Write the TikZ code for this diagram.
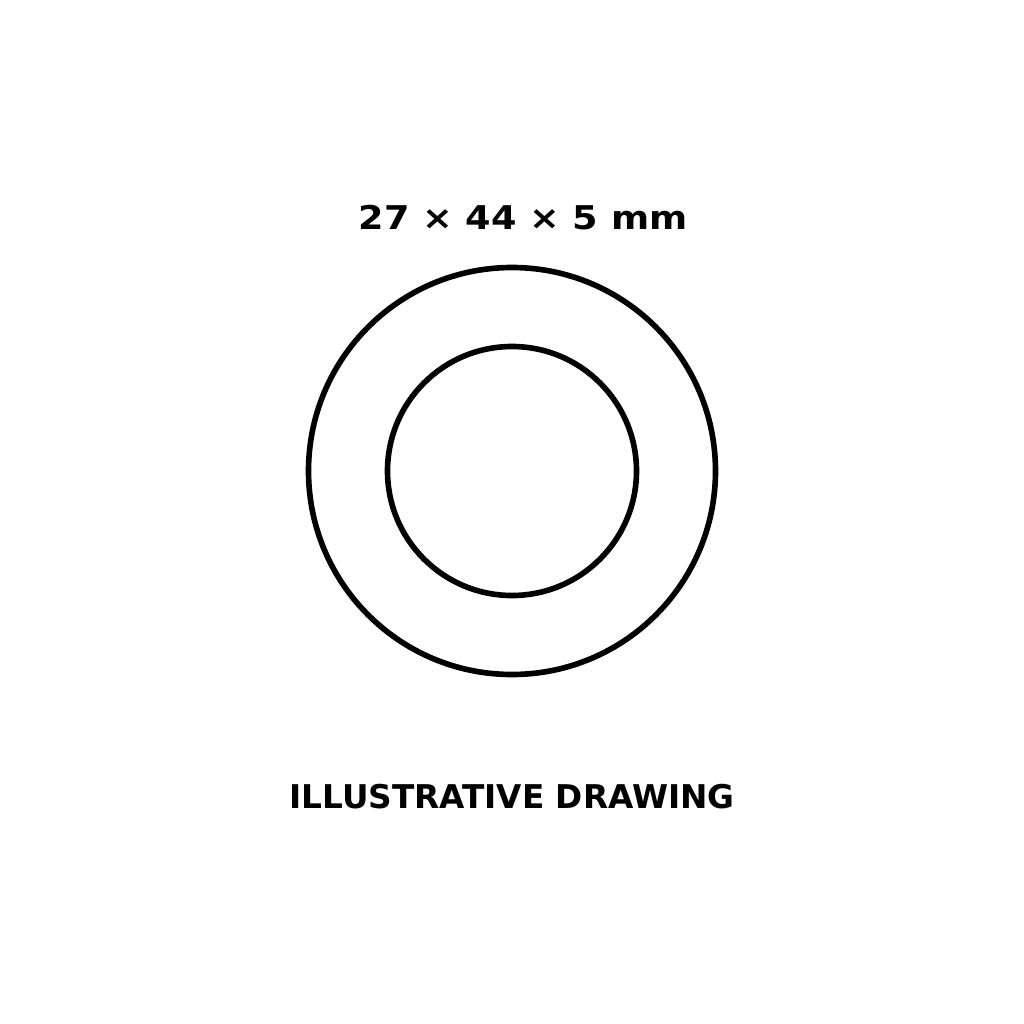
\documentclass[tikz,border=0pt]{standalone}
\usepackage{fontspec}
\usepackage{graphicx}
\setmainfont{DejaVu Sans}
\tikzset{
  ring/.style={draw=black, line width=1.6pt},
  caption/.style={font=\fontsize{9.3pt}{11pt}\selectfont\bfseries, inner sep=0pt}
}
\begin{document}
\begin{tikzpicture}[x=0.01cm, y=-0.01cm]
  \useasboundingbox[fill=white] (0,0) rectangle (1024,1024);
  \coordinate (centre) at (512,471);
  \draw[ring] (centre) circle[radius=203.5];
  \draw[ring] (centre) circle[radius=124.5];
  \node[caption, anchor=base] (size) at (523,229) {\scalebox{1.12}[1]{27 × 44 × 5 mm}};
  \node[caption, anchor=base] (note) at (512,808) {ILLUSTRATIVE DRAWING};
\end{tikzpicture}
\end{document}
